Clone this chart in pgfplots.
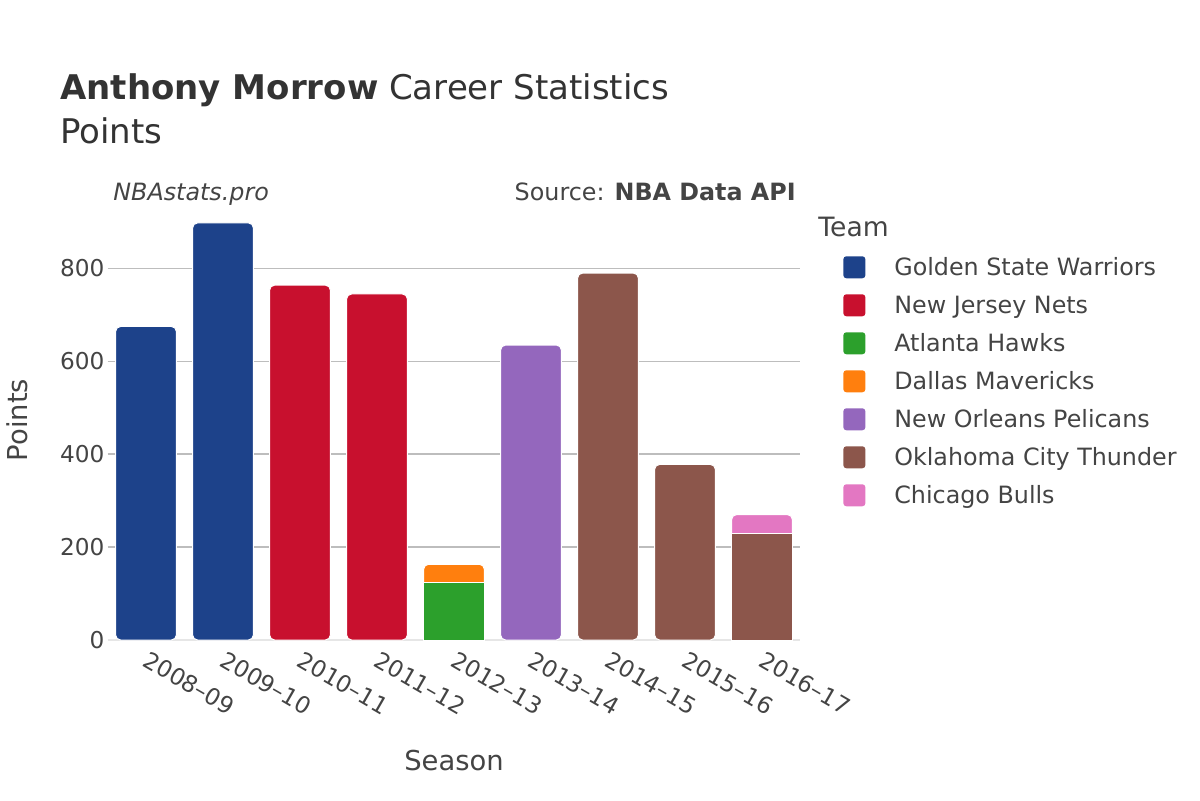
\documentclass[border=0pt]{standalone}
\usepackage{pgfplots}
\pgfplotsset{compat=1.18}
\usepackage{fontspec}
\setmainfont{DejaVu Sans}
\definecolor{gsw}{HTML}{1D428A}
\definecolor{njn}{HTML}{C8102E}
\definecolor{atl}{HTML}{2CA02C}
\definecolor{dal}{HTML}{FF7F0E}
\definecolor{nop}{HTML}{9467BD}
\definecolor{okc}{HTML}{8C564B}
\definecolor{chi}{HTML}{E377C2}
\definecolor{txt}{HTML}{444444}
\definecolor{ttl}{HTML}{333333}
\definecolor{gridc}{HTML}{BDBDBD}
\definecolor{zeroc}{HTML}{E6E6E6}
\pgfplotsset{
  mybar/.style={ybar, bar shift=0pt, bar width=30.4pt, draw=white, line width=0.5pt, forget plot},
  rbar/.style={mybar, rounded corners=2.5pt},
}
\begin{document}
\begin{tikzpicture}
\path[use as bounding box] (0,0) rectangle (600pt,400pt);
\begin{axis}[
  at={(53.75pt,80pt)}, anchor=south west,
  scale only axis, width=346.5pt, height=219pt,
  xmin=-0.5, xmax=8.5, ymin=0, ymax=943,
  axis line style={draw=none},
  tick style={draw=none},
  xtick={0,1,2,3,4,5,6,7,8},
  xticklabels={2008–09,2009–10,2010–11,2011–12,2012–13,2013–14,2014–15,2015–16,2016–17},
  ytick={200,400,600,800},
  extra y ticks={0},
  extra y tick style={ymajorgrids=true, major grid style={zeroc, line width=1.2pt}},
  ymajorgrids=true,
  major grid style={gridc, line width=0.75pt},
  tick label style={font=\fontsize{11.6}{13}\selectfont, text=txt},
  /pgf/number format/assume math mode=true,
  yticklabel style={anchor=east, inner sep=0pt, xshift=-1.3pt},
  xticklabel style={yshift=-5pt, xshift=2pt, rotate=-30, anchor=north west, inner sep=0pt},
  legend image code/.code={\fill[#1, draw=none, rounded corners=1.5pt] (0pt,-5.5pt) rectangle (11pt,5.5pt);},
  legend style={at={(axis description cs:1.0613,0.877)}, anchor=north west, draw=none, fill=none,
    inner sep=0pt, row sep=8pt, column sep=14.5pt,
    font=\fontsize{11.9}{14}\selectfont, text=txt,
    nodes={inner sep=0pt, text height=8.7pt, text depth=0pt}},
  legend cell align=left,
]
% Golden State Warriors
\addplot[rbar, fill=gsw] coordinates {(0,675) (1,898)};
% New Jersey Nets
\addplot[rbar, fill=njn] coordinates {(2,764) (3,745)};
% 2012-13: Dallas Mavericks on top of Atlanta Hawks (top of stack = 163)
\addplot[rbar, fill=dal] coordinates {(4,163)};
% Atlanta Hawks
\addplot[mybar, fill=atl] coordinates {(4,124)};
% New Orleans Pelicans
\addplot[rbar, fill=nop] coordinates {(5,635)};
% 2016-17: Chicago Bulls on top of Oklahoma City Thunder (top of stack = 270)
\addplot[rbar, fill=chi] coordinates {(8,270)};
% Oklahoma City Thunder
\addplot[rbar, fill=okc] coordinates {(6,790) (7,378)};
\addplot[mybar, fill=okc] coordinates {(8,229)};
% legend
\addlegendimage{fill=gsw}\addlegendentry{Golden State Warriors}
\addlegendimage{fill=njn}\addlegendentry{New Jersey Nets}
\addlegendimage{fill=atl}\addlegendentry{Atlanta Hawks}
\addlegendimage{fill=dal}\addlegendentry{Dallas Mavericks}
\addlegendimage{fill=nop}\addlegendentry{New Orleans Pelicans}
\addlegendimage{fill=okc}\addlegendentry{Oklahoma City Thunder}
\addlegendimage{fill=chi}\addlegendentry{Chicago Bulls}
\end{axis}
\node[inner sep=0pt, anchor=base west, text=ttl, font=\fontsize{17}{20}\selectfont] at (30pt,350pt) {\textbf{Anthony Morrow} Career Statistics};
\node[inner sep=0pt, anchor=base west, text=ttl, font=\fontsize{17}{20}\selectfont] at (30pt,328.3pt) {Points};
\node[inner sep=0pt, anchor=base west, text=txt, font=\fontsize{11.9}{14}\selectfont\itshape] at (56.5pt,300pt) {NBAstats.pro};
\node[inner sep=0pt, anchor=base east, text=txt, font=\fontsize{11.9}{14}\selectfont] at (398pt,300pt) {Source: \textbf{NBA Data API}};
\node[inner sep=0pt, anchor=base west, text=txt, font=\fontsize{13.3}{16}\selectfont] at (409pt,282pt) {Team};
\node[inner sep=0pt, anchor=base, text=txt, font=\fontsize{13.7}{16}\selectfont] at (227pt,15pt) {Season};
\node[inner sep=0pt, anchor=base, rotate=90, text=txt, font=\fontsize{13.7}{16}\selectfont] at (13.5pt,190pt) {Points};
\end{tikzpicture}
\end{document}
